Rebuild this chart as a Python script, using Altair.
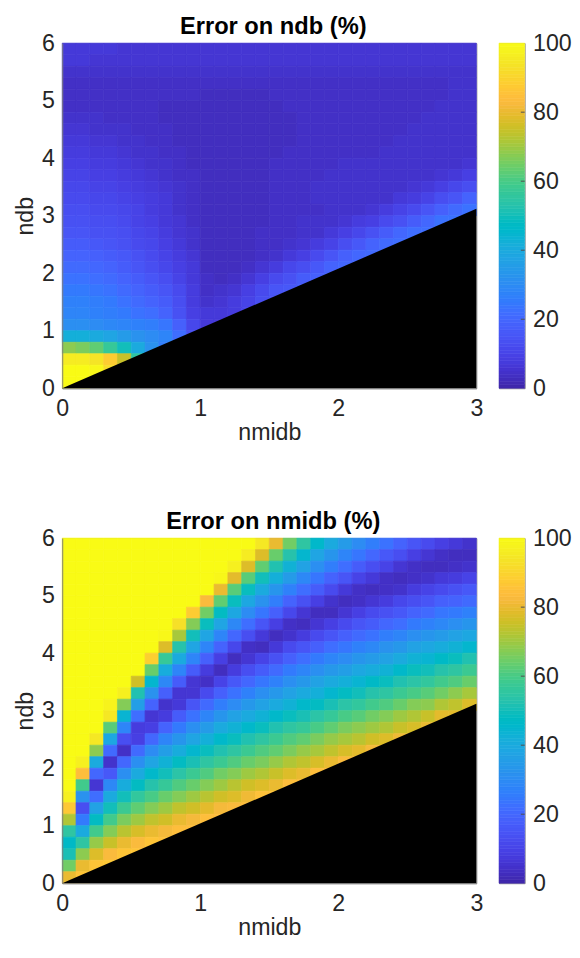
import altair as alt
import pandas as pd

# ---------------- grid description ----------------
NMIDB_STEP = 0.1          # cell width along nmidb
NDB_STEP = 0.2            # cell height along ndb
NDB_TOP = 6.0             # rows are listed from the top (ndb 5.9) downwards

X_TICKS = [0, 1, 2, 3]
Y_TICKS = [0, 1, 2, 3, 4, 5, 6]
CBAR_TICKS = [0, 20, 40, 60, 80, 100]
CBAR_LEVELS = list(range(0, 100))      # one colour band per percent in the colour bar
TITLES = ["Error on ndb (%)", "Error on nmidb (%)"]

# black (undefined) region lies below the line through these points
EDGE_NMIDB = [0.0, 3.0]
EDGE_NDB = [0.0, 3.12]

# ---------------- Error on ndb (%) : rows, top (ndb=5.9) -> bottom (ndb=0.1) ----------------
ERR_NDB_ROWS = [
    [7, 7, 7, 7, 6, 6, 6, 6, 6, 6, 6, 6, 6, 6, 6, 6, 6, 6, 6, 6, 6, 6, 6, 6, 6, 6, 6, 6, 6, 6],
    [7, 7, 6, 6, 6, 6, 6, 6, 6, 6, 6, 6, 6, 6, 6, 6, 6, 6, 6, 6, 6, 6, 6, 6, 6, 6, 6, 6, 6, 6],
    [5, 5, 5, 5, 5, 5, 5, 5, 5, 5, 5, 5, 5, 5, 5, 5, 5, 5, 5, 5, 5, 5, 5, 5, 5, 5, 5, 5, 5, 5],
    [4, 4, 4, 4, 4, 4, 4, 4, 4, 4, 4, 4, 4, 4, 4, 4, 4, 4, 4, 4, 4, 4, 4, 4, 4, 4, 4, 4, 5, 5],
    [4, 4, 4, 4, 4, 4, 4, 4, 4, 4, 3, 3, 3, 3, 3, 4, 4, 4, 4, 4, 4, 4, 4, 4, 4, 4, 4, 4, 5, 5],
    [4, 4, 4, 4, 4, 4, 4, 3, 3, 3, 3, 3, 3, 3, 3, 3, 4, 4, 4, 4, 4, 4, 4, 4, 4, 4, 4, 5, 5, 5],
    [5, 5, 5, 4, 4, 4, 4, 3, 3, 3, 3, 3, 3, 3, 3, 3, 3, 4, 4, 4, 4, 4, 4, 4, 4, 4, 5, 5, 5, 5],
    [6, 6, 5, 5, 5, 4, 4, 4, 3, 3, 3, 3, 3, 3, 3, 3, 3, 4, 4, 4, 4, 4, 4, 4, 4, 5, 5, 5, 5, 5],
    [7, 7, 6, 6, 5, 5, 4, 4, 3, 3, 3, 3, 3, 3, 3, 3, 3, 4, 4, 4, 4, 4, 4, 4, 5, 5, 5, 5, 5, 5],
    [8, 8, 7, 7, 6, 5, 5, 4, 4, 3, 3, 3, 3, 3, 3, 3, 4, 4, 4, 4, 4, 4, 4, 5, 5, 5, 5, 5, 5, 5],
    [9, 9, 8, 8, 7, 6, 5, 5, 4, 3, 3, 3, 3, 3, 3, 4, 4, 4, 4, 4, 5, 5, 5, 5, 5, 5, 5, 5, 5, 6],
    [10, 10, 9, 9, 8, 7, 6, 5, 4, 4, 3, 3, 3, 3, 3, 4, 4, 4, 4, 5, 5, 5, 5, 5, 5, 5, 5, 6, 7, 9],
    [11, 11, 10, 10, 9, 8, 7, 6, 5, 4, 3, 3, 3, 3, 3, 4, 4, 4, 5, 5, 5, 5, 5, 5, 5, 6, 7, 9, 11, 13],
    [12, 12, 11, 11, 10, 9, 8, 7, 5, 4, 3, 3, 3, 3, 3, 4, 4, 4, 5, 5, 5, 5, 5, 5, 7, 8, 10, 13, 15, 19],
    [13, 13, 12, 12, 11, 10, 8, 7, 5, 4, 3, 3, 3, 3, 3, 4, 4, 4, 4, 5, 5, 5, 6, 8, 10, 12, 15, 18, 21, 23],
    [14, 14, 13, 13, 12, 10, 9, 7, 6, 4, 3, 3, 3, 3, 3, 4, 4, 5, 5, 5, 6, 8, 9, 12, 14, 17, 20, 23, 23],
    [15, 15, 14, 14, 13, 11, 10, 8, 6, 5, 3, 3, 3, 3, 4, 4, 4, 5, 5, 7, 9, 11, 14, 17, 20, 22, 22],
    [17, 17, 16, 15, 14, 12, 11, 9, 7, 5, 3, 3, 3, 3, 4, 4, 5, 6, 8, 10, 13, 16, 19, 21, 22, 22],
    [19, 19, 18, 17, 16, 14, 12, 10, 8, 6, 3, 3, 3, 3, 4, 5, 7, 9, 12, 15, 18, 20, 21, 21],
    [21, 21, 20, 19, 17, 15, 13, 11, 9, 7, 3, 3, 3, 4, 6, 8, 11, 13, 16, 19, 20, 20],
    [23, 23, 22, 21, 19, 17, 15, 13, 10, 7, 4, 3, 4, 6, 9, 12, 14, 17, 18, 18],
    [25, 25, 24, 23, 21, 19, 17, 15, 12, 8, 4, 5, 6, 9, 12, 15, 16, 17],
    [27, 27, 26, 25, 23, 21, 19, 17, 13, 8, 5, 6, 8, 10, 13, 14],
    [28, 28, 27, 26, 25, 23, 22, 19, 14, 9, 7, 7, 8, 10],
    [31, 31, 30, 29, 28, 27, 26, 24, 18, 11, 7, 7],
    [42, 42, 40, 38, 35, 32, 30, 28, 22, 14],
    [68, 66, 63, 57, 50, 40, 32, 26],
    [96, 96, 94, 88, 75, 55],
    [100, 100, 99, 92],
    [100, 100],
]

# ---------------- Error on nmidb (%) : columns, left (nmidb=0.05) -> right (2.95),
# each listed from the top (ndb=5.9) downwards until the black region ----------------
ERR_NMIDB_COLS = [
    [100] * 22 + [97, 87, 72, 55, 47, 51, 65, 80],
    [100] * 19 + [97, 84, 59, 32, 13, 25, 40, 55, 68, 80, 86],
    [100] * 17 + [95, 68, 40, 20, 6, 22, 37, 48, 59, 69, 78, 86],
    [100] * 14 + [98, 95, 62, 39, 21, 5, 16, 29, 40, 50, 59, 67, 75, 83, 87],
    [100] * 13 + [97, 67, 44, 28, 13, 4, 20, 31, 41, 50, 58, 66, 73, 80, 86],
    [100] * 12 + [76, 52, 36, 22, 8, 9, 21, 31, 40, 48, 56, 63, 70, 77, 83, 86],
    [100] * 10 + [89, 64, 45, 32, 19, 6, 9, 20, 30, 38, 46, 53, 60, 67, 74, 80, 86],
    [100] * 8 + [99, 78, 57, 41, 29, 18, 5, 8, 19, 28, 36, 43, 50, 57, 64, 70, 76, 82, 85],
    [100] * 7 + [93, 71, 53, 40, 28, 17, 6, 7, 17, 25, 33, 41, 48, 54, 61, 67, 74, 80, 84],
    [100] * 6 + [88, 67, 50, 38, 28, 17, 6, 6, 15, 23, 31, 38, 45, 51, 58, 64, 70, 76, 82, 84],
    [100] * 5 + [83, 65, 49, 38, 28, 18, 8, 4, 12, 21, 28, 35, 42, 49, 55, 61, 67, 73, 79, 84],
    [100] * 3 + [99, 80, 63, 48, 38, 28, 19, 9, 3, 10, 18, 26, 33, 40, 46, 52, 58, 65, 70, 76, 82, 84],
    [100, 100, 97, 79, 62, 49, 39, 29, 20, 11, 3, 8, 16, 23, 30, 37, 43, 49, 55, 61, 67, 73, 78, 83],
    [100, 96, 78, 62, 49, 39, 30, 22, 13, 4, 6, 13, 20, 27, 34, 40, 46, 52, 58, 64, 70, 76, 81, 84],
    [95, 78, 63, 50, 40, 32, 24, 15, 7, 3, 10, 17, 24, 31, 37, 43, 49, 55, 61, 66, 72, 78, 85],
    [80, 64, 52, 42, 33, 26, 18, 9, 3, 7, 14, 21, 27, 34, 40, 46, 52, 58, 63, 69, 75, 80, 85],
    [65, 53, 43, 35, 27, 19, 11, 4, 5, 12, 18, 25, 31, 37, 43, 49, 55, 61, 66, 72, 78, 84],
    [55, 45, 37, 29, 22, 14, 6, 3, 8, 15, 22, 28, 34, 40, 46, 51, 57, 63, 69, 74, 80, 84],
    [46, 38, 31, 24, 17, 9, 3, 6, 12, 18, 25, 31, 37, 42, 48, 54, 60, 66, 71, 77, 84],
    [40, 33, 26, 19, 12, 5, 3, 9, 15, 22, 28, 34, 40, 45, 51, 57, 63, 69, 74, 80, 83],
    [35, 28, 22, 15, 7, 3, 6, 12, 18, 24, 30, 36, 42, 48, 54, 60, 66, 71, 77, 83],
    [30, 24, 17, 10, 4, 4, 9, 15, 21, 27, 33, 39, 44, 50, 56, 62, 68, 73, 79, 83],
    [26, 20, 13, 7, 3, 6, 12, 17, 23, 29, 35, 41, 47, 53, 59, 65, 70, 76, 82],
    [23, 16, 10, 4, 4, 8, 14, 20, 26, 32, 37, 43, 49, 55, 61, 67, 72, 78, 82],
    [19, 13, 6, 3, 5, 11, 16, 22, 28, 34, 40, 46, 52, 58, 64, 70, 75, 81],
    [15, 9, 4, 4, 8, 13, 19, 25, 31, 37, 43, 49, 54, 60, 67, 72, 77, 81],
    [12, 6, 3, 5, 10, 15, 21, 27, 33, 39, 44, 50, 56, 62, 68, 75, 80],
    [9, 4, 3, 7, 12, 18, 24, 29, 35, 41, 47, 53, 59, 65, 72, 79],
    [7, 3, 4, 8, 14, 19, 25, 31, 37, 43, 49, 55, 61, 68, 74, 79],
    [5, 3, 5, 10, 16, 21, 27, 33, 39, 45, 52, 58, 64, 71, 78],
]

# MATLAB parula colormap (64 entries)
PARULA = [
    "#3E26A8", "#402AB4", "#422EC0", "#4332CB", "#4537D5", "#463CDE", "#4741E5", "#4747EB",
    "#484DF0", "#4852F4", "#4758F8", "#465EFB", "#4563FD", "#4269FE", "#3E6FFF", "#3875FE",
    "#327CFC", "#2F81FA", "#2E87F7", "#2D8CF3", "#2B91EF", "#2796EB", "#259BE8", "#23A0E5",
    "#20A5E3", "#1CA9DF", "#18ADDB", "#12B1D6", "#08B5D0", "#01B8CA", "#02BAC3", "#0BBDBD",
    "#19BFB6", "#24C1AE", "#2CC4A7", "#31C69F", "#37C897", "#3FCA8E", "#4ACB84", "#57CC7A",
    "#64CD6F", "#72CD64", "#81CC59", "#8FCB4E", "#9DC943", "#ABC739", "#B9C431", "#C5C22A",
    "#D1BF27", "#DCBD29", "#E6BB2D", "#F0BA36", "#F8BA3D", "#FEBE3C", "#FEC338", "#FEC934",
    "#FCCF30", "#FAD62D", "#F7DC2A", "#F5E327", "#F5E924", "#F6EF20", "#F7F51B", "#F9FB15",
]
PARULA_STOPS = [round(i * 100 / (len(PARULA) - 1), 4) for i in range(len(PARULA))]

FONT = "Liberation Sans"
TXT = "#262626"
LBL = 23.5


def cells_from_rows(rows):
    recs = []
    for r, row in enumerate(rows):
        y1 = round(NDB_TOP - r * NDB_STEP, 4)
        y0 = round(y1 - NDB_STEP, 4)
        for j, v in enumerate(row):
            recs.append({"x0": round(j * NMIDB_STEP, 4), "x1": round((j + 1) * NMIDB_STEP, 4),
                         "y0": y0, "y1": y1, "v": v})
    return pd.DataFrame(recs)


def cells_from_cols(cols):
    recs = []
    for j, col in enumerate(cols):
        for r, v in enumerate(col):
            y1 = round(NDB_TOP - r * NDB_STEP, 4)
            y0 = round(y1 - NDB_STEP, 4)
            recs.append({"x0": round(j * NMIDB_STEP, 4), "x1": round((j + 1) * NMIDB_STEP, 4),
                         "y0": y0, "y1": y1, "v": v})
    return pd.DataFrame(recs)


edge_df = pd.DataFrame({"nmidb": EDGE_NMIDB, "ndb": EDGE_NDB, "base": [0.0, 0.0]})
cbar_df = pd.DataFrame({"lo": CBAR_LEVELS, "hi": [v + 1 for v in CBAR_LEVELS],
                        "mid": [v + 0.5 for v in CBAR_LEVELS]})
cbar_tick_df = pd.DataFrame({"t": CBAR_TICKS[1:-1]})


def color_scale():
    return alt.Scale(domain=PARULA_STOPS, range=PARULA, type="linear")


def x_axis():
    return alt.Axis(title="nmidb", values=X_TICKS, format="d", grid=False, ticks=False,
                    labelFlush=False, labelFontSize=LBL, labelFont=FONT, labelColor=TXT,
                    labelPadding=9, titleFontSize=LBL, titleFont=FONT, titleFontWeight="normal",
                    titleColor=TXT, titlePadding=0, domainColor="#808080", zindex=1)


def y_axis():
    return alt.Axis(title="ndb", values=Y_TICKS, format="d", grid=False, ticks=False,
                    labelFlush=False, labelFontSize=LBL, labelFont=FONT, labelColor=TXT,
                    labelPadding=8, titleFontSize=LBL, titleFont=FONT, titleFontWeight="normal",
                    titleColor=TXT, titlePadding=4, domainColor="#808080", zindex=1)


def panel(df, title):
    xs = alt.Scale(domain=[0, 3], nice=False, zero=False)
    ys = alt.Scale(domain=[0, 6], nice=False, zero=False)
    heat = alt.Chart(df).mark_rect(strokeWidth=0.7).encode(
        x=alt.X("x0:Q", scale=xs, axis=x_axis()),
        x2="x1:Q",
        y=alt.Y("y0:Q", scale=ys, axis=y_axis()),
        y2="y1:Q",
        color=alt.Color("v:Q", scale=color_scale(), legend=None),
        stroke=alt.Stroke("v:Q", scale=color_scale(), legend=None),
    )
    edge = alt.Chart(edge_df).mark_area(color="black", opacity=1).encode(
        x=alt.X("nmidb:Q", scale=xs, axis=x_axis()),
        y=alt.Y("ndb:Q", scale=ys, axis=y_axis()),
        y2="base:Q",
    )
    head = alt.Chart(pd.DataFrame({"label": [title]})).mark_text(
        font=FONT, fontSize=24, fontWeight="bold", color="black",
        align="center", baseline="alphabetic",
    ).encode(
        text="label:N",
        x=alt.value(214),
        y=alt.value(-9),
    )
    return alt.layer(heat, edge, head).properties(width=420, height=350)


def colorbar():
    ys = alt.Scale(domain=[0, 100], nice=False, zero=False)
    xs = alt.Scale(domain=[0, 1], nice=False, zero=False)
    bands = alt.Chart(cbar_df).mark_rect(strokeWidth=0.6).encode(
        x=alt.datum(0, scale=xs, axis=None),
        x2=alt.datum(1),
        y=alt.Y("lo:Q", scale=ys, axis=alt.Axis(
            orient="right", values=CBAR_TICKS, format="d", grid=False, ticks=False,
            domain=False, labelFlush=False, labelFontSize=LBL, labelFont=FONT,
            labelColor=TXT, labelPadding=8, title=None)),
        y2="hi:Q",
        color=alt.Color("mid:Q", scale=color_scale(), legend=None),
        stroke=alt.Stroke("mid:Q", scale=color_scale(), legend=None),
    )
    ticks = alt.Chart(cbar_tick_df).mark_rule(color="#4d4d4d", strokeWidth=1).encode(
        x=alt.datum(0.85, scale=xs),
        x2=alt.datum(1.0),
        y=alt.Y("t:Q", scale=ys),
    )
    return alt.layer(bands, ticks).properties(width=26, height=350)


def row(df, title):
    return alt.hconcat(panel(df, title), colorbar(), spacing=14)


chart = alt.vconcat(
    row(cells_from_rows(ERR_NDB_ROWS), TITLES[0]),
    row(cells_from_cols(ERR_NMIDB_COLS), TITLES[1]),
    spacing=66,
).properties(
    padding={"left": 5, "top": 0, "right": 0, "bottom": 0}
).configure_view(stroke="#8c8c8c", strokeWidth=1)

chart.save("out.html", embed_options={"renderer": "svg", "actions": False})
